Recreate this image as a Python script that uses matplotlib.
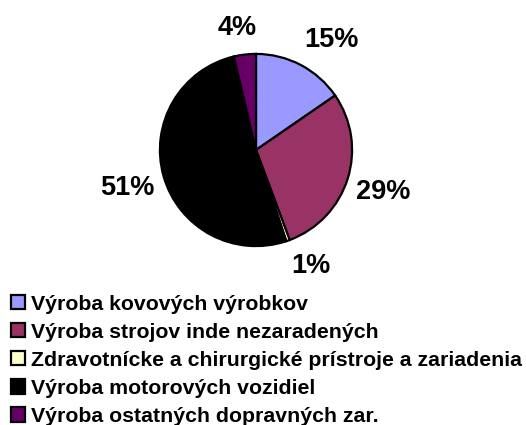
import numpy as np
import matplotlib.pyplot as plt

plt.rcParams['font.family'] = ['Liberation Sans', 'DejaVu Sans']

categories = [
    'Výroba kovových výrobkov',
    'Výroba strojov inde nezaradených',
    'Zdravotnícke a chirurgické prístroje a zariadenia',
    'Výroba motorových vozidiel',
    'Výroba ostatných dopravných zar.',
]
shares = [15.4, 28.9, 0.6, 51.4, 3.7]
pct_labels = ['15%', '29%', '1%', '51%', '4%']
colors = ['#9999FF', '#993366', '#FFFFCC', '#000000', '#660066']

W, H = 526, 425
fig = plt.figure(figsize=(W / 100, H / 100), dpi=100)

# pie centred around (256, 150) px, radius ~98 px
cx, cy, r = 256, 150, 98
ax = fig.add_axes([(cx - r) / W, 1 - (cy + r) / H, 2 * r / W, 2 * r / H])
wedges, texts = ax.pie(shares, labels=pct_labels, colors=colors,
                       startangle=90, counterclock=False,
                       labeldistance=1.1,
                       wedgeprops=dict(edgecolor='black', linewidth=1.6),
                       textprops=dict(fontsize=19.5, fontweight='bold'))
ax.set_xlim(-1.02, 1.02)
ax.set_ylim(-1.02, 1.02)
ax.set_aspect('equal')

# excel-like label placement: push the text box outwards from its anchor
fig.canvas.draw()
renderer = fig.canvas.get_renderer()
for w, t in zip(wedges, texts):
    t.set_horizontalalignment('center')
    t.set_verticalalignment('center')
    ang = np.deg2rad((w.theta1 + w.theta2) / 2)
    dx, dy = np.cos(ang), np.sin(ang)
    bb = t.get_window_extent(renderer)
    fx = np.clip(3 * dx, -1, 1)
    fy = np.clip(2 * dy, -1, 1)
    t.set_position((1.1 * dx + fx * bb.width / 2 / r,
                    1.1 * dy + fy * bb.height * 0.65 / r))

fig.legend(wedges, categories, loc='upper left',
           bbox_to_anchor=(11 / W, 1 - 294.5 / H),
           frameon=False, borderpad=0, borderaxespad=0,
           prop=dict(size=15.3, weight='bold'),
           handlelength=0.68, handleheight=0.65,
           handletextpad=0.28, labelspacing=0.43)

fig.savefig('out.png', dpi=100)
